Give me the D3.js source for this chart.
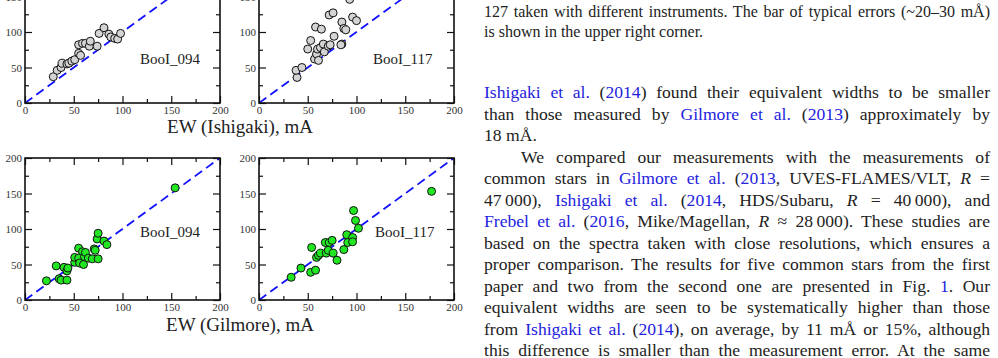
<!DOCTYPE html>
<html>
<head>
<meta charset="utf-8">
<script src="https://cdn.jsdelivr.net/npm/d3@7"></script>
<style>
  body { margin: 0; background: #fff; }
  #page { position: relative; width: 998px; height: 358px; overflow: hidden; }
  svg { position: absolute; left: 0; top: 0; }
  .txt { position: absolute; left: 484px; width: 506px; font-family: "Liberation Serif", "Times New Roman", Times, serif; color: #222; }
  .txt div { position: absolute; left: 0; width: 506px; }
  .j { text-align: justify; text-align-last: justify; }
  .cap { font-size: 16px; line-height: 20px; height: 20px; }
  .main { font-size: 17.6px; line-height: 21.5px; height: 21.5px; }
  .txt a { color: #2222dd; text-decoration: none; }
  svg text { font-family: "Liberation Serif", "Times New Roman", Times, serif; }
</style>
</head>
<body>
<div id="page">
  <svg id="chart" width="998" height="358"></svg>
  <div class="txt" id="text"></div>
</div>
<script>
// axis ticks (both axes run 0..200)
const majorTicks = [0, 50, 100, 150, 200];
const minorTicks = [25, 75, 125, 175];

const starNames = ['BooI_094', 'BooI_117'];
const axisTitles = ['EW (Ishigaki), mA', 'EW (Gilmore), mA'];

// [EW literature, EW ours] in mA
const ishigaki094 = [[29,37],[33,46],[37,50],[38,56],[43,55],[45,56],[48,59],[51,61],[55,70],[55,82],
  [57,67],[59,84],[62,84],[66,80],[67,87],[74,80],[76,98],[81,106],[86,97],[88,93],[92,91],[95,90],[98,98]];
const ishigaki117 = [[39,36],[38,46],[44,50],[50,76],[53,88],[58,107],[64,104],[57,62],[59,69],[60,76],
  [61,60],[63,78],[66,83],[67,72],[71,80],[73,82],[77,94],[72,124],[76,127],[85,83],[85,114],[87,105],
  [89,103],[96,121],[100,116],[93,146],[84,82]];
const gilmore094 = [[22,27],[32,48],[35,30],[37,28],[43,28],[40,46],[43,41],[44,45],[51,53],[51,60],
  [55,73],[59,68],[55,59],[56,52],[60,50],[61,61],[62,67],[65,59],[69,58],[71,72],[72,70],[75,58],
  [74,86],[75,94],[81,83],[84,78],[154,158]];
const gilmore117 = [[33,32],[43,45],[53,39],[58,42],[54,74],[59,60],[61,63],[63,66],[68,81],[69,66],
  [72,81],[75,84],[71,70],[76,66],[80,56],[87,71],[90,92],[91,81],[96,88],[96,82],[97,126],[99,112],
  [102,101],[177,153]];

const panels = [
  { left: 25, right: 220, bottom: 103, top: -39, pts: ishigaki094, fill: '#d4d4d4', name: starNames[0], lx: 118, ly: 55 },
  { left: 259, right: 454, bottom: 103, top: -39, pts: ishigaki117, fill: '#d4d4d4', name: starNames[1], lx: 117, ly: 55 },
  { left: 25, right: 220, bottom: 300, top: 158, pts: gilmore094, fill: '#22e622', name: starNames[0], lx: 118, ly: 89 },
  { left: 259, right: 454, bottom: 300, top: 158, pts: gilmore117, fill: '#22e622', name: starNames[1], lx: 119, ly: 89 },
];

const svg = d3.select('#chart');

function drawPanel(p, i) {
  const x = d3.scaleLinear().domain([0, 200]).range([p.left, p.right]);
  const y = d3.scaleLinear().domain([0, 200]).range([p.bottom, p.top]);
  const g = svg.append('g');

  g.append('clipPath').attr('id', 'clip' + i)
    .append('rect')
    .attr('x', p.left).attr('y', p.top)
    .attr('width', p.right - p.left).attr('height', p.bottom - p.top);

  // one-to-one line
  g.append('line')
    .attr('clip-path', `url(#clip${i})`)
    .attr('x1', x(0)).attr('y1', y(0))
    .attr('x2', x(200)).attr('y2', y(200))
    .attr('stroke', '#1010ff')
    .attr('stroke-width', 1.8)
    .attr('stroke-dasharray', '9,5');

  g.append('g').attr('clip-path', `url(#clip${i})`)
    .selectAll('circle')
    .data(p.pts)
    .join('circle')
    .attr('cx', (d) => x(d[0]))
    .attr('cy', (d) => y(d[1]))
    .attr('r', 4)
    .attr('fill', p.fill)
    .attr('stroke', '#111')
    .attr('stroke-width', 1);

  // axes with inward ticks
  const styleAxis = (sel) => {
    sel.select('.domain').remove();
    sel.selectAll('line').attr('stroke', '#111').attr('stroke-width', 1.2);
    sel.selectAll('text').attr('font-family', null)
      .attr('font-size', 11).attr('fill', '#333');
  };
  const fmt = (d) => String(d);

  g.append('g').attr('transform', `translate(0,${p.bottom})`)
    .call(d3.axisBottom(x).tickValues(majorTicks).tickSize(-7).tickPadding(3).tickFormat(fmt)).call(styleAxis);
  g.append('g').attr('transform', `translate(0,${p.bottom})`)
    .call(d3.axisBottom(x).tickValues(minorTicks).tickSize(-4).tickFormat('')).call(styleAxis);
  g.append('g').attr('transform', `translate(0,${p.top})`)
    .call(d3.axisTop(x).tickValues(majorTicks).tickSize(-7).tickFormat('')).call(styleAxis);
  g.append('g').attr('transform', `translate(0,${p.top})`)
    .call(d3.axisTop(x).tickValues(minorTicks).tickSize(-4).tickFormat('')).call(styleAxis);
  g.append('g').attr('transform', `translate(${p.left},0)`)
    .call(d3.axisLeft(y).tickValues(majorTicks).tickSize(-7).tickPadding(3).tickFormat(fmt)).call(styleAxis);
  g.append('g').attr('transform', `translate(${p.left},0)`)
    .call(d3.axisLeft(y).tickValues(minorTicks).tickSize(-4).tickFormat('')).call(styleAxis);
  g.append('g').attr('transform', `translate(${p.right},0)`)
    .call(d3.axisRight(y).tickValues(majorTicks).tickSize(-7).tickFormat('')).call(styleAxis);
  g.append('g').attr('transform', `translate(${p.right},0)`)
    .call(d3.axisRight(y).tickValues(minorTicks).tickSize(-4).tickFormat('')).call(styleAxis);

  g.append('rect')
    .attr('x', p.left).attr('y', p.top)
    .attr('width', p.right - p.left).attr('height', p.bottom - p.top)
    .attr('fill', 'none').attr('stroke', '#111').attr('stroke-width', 1.6);

  g.append('text')
    .attr('x', x(p.lx)).attr('y', y(p.ly))
    .attr('font-size', 15)
    .attr('fill', '#222')
    .text(p.name);
}

panels.forEach(drawPanel);

// x axis titles, centred under each row
[133, 331].forEach((yb, i) => {
  svg.append('text')
    .attr('x', 240).attr('y', yb)
    .attr('text-anchor', 'middle')
    .attr('font-size', 19)
    .attr('fill', '#222')
    .text(axisTitles[i]);
});

// text column: [centre y, class, html, indent]
const a = (s) => `<a>${s}</a>`;
const lines = [
  [12, 'cap j', `127 taken with different instruments. The bar of typical errors (~20–30 mÅ)`],
  [32, 'cap', `is shown in the upper right corner.`],
  [93, 'main j', `${a('Ishigaki et al.')} (${a('2014')}) found their equivalent widths to be smaller`],
  [114.5, 'main j', `than those measured by ${a('Gilmore et al.')} (${a('2013')}) approximately by`],
  [136, 'main', `18 mÅ.`],
  [157.5, 'main j', `We compared our measurements with the measurements of`, 37],
  [179, 'main j', `common stars in ${a('Gilmore et al.')} (${a('2013')}, UVES-FLAMES/VLT, <i>R</i> =`],
  [200.5, 'main j', `47\u2009000), ${a('Ishigaki et al.')} (${a('2014')}, HDS/Subaru, <i>R</i> = 40\u2009000), and`],
  [222, 'main j', `${a('Frebel et al.')} (${a('2016')}, Mike/Magellan, <i>R</i> ≈ 28\u2009000). These studies are`],
  [243.5, 'main j', `based on the spectra taken with close resolutions, which ensures a`],
  [265, 'main j', `proper comparison. The results for five common stars from the first`],
  [286.5, 'main j', `paper and two from the second one are presented in Fig. ${a('1')}. Our`],
  [308, 'main j', `equivalent widths are seen to be systematically higher than those`],
  [329.5, 'main j', `from ${a('Ishigaki et al.')} (${a('2014')}), on average, by 11 mÅ or 15%, although`],
  [351, 'main j', `this difference is smaller than the measurement error. At the same`],
];

const divs = d3.select('#text')
  .selectAll('div')
  .data(lines)
  .join('div')
  .attr('class', (d) => d[1])
  .style('top', (d) => (d[0] - (d[1].startsWith('cap') ? 10 : 10.75)) + 'px')
  .style('left', (d) => (d[3] || 0) + 'px')
  .style('width', (d) => (506 - (d[3] || 0)) + 'px')
  .html((d) => d[2]);

// shrink a line slightly if it would wrap
divs.each(function () {
  let fs = parseFloat(getComputedStyle(this).fontSize);
  while (this.scrollHeight > this.clientHeight + 2 && fs > 12) {
    fs -= 0.2;
    this.style.fontSize = fs + 'px';
  }
});
</script>
</body>
</html>
